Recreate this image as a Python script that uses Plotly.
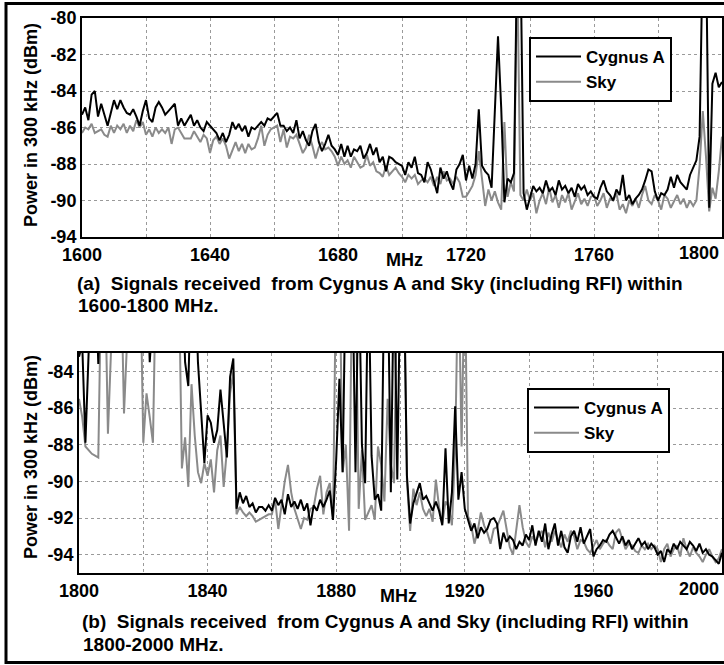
import plotly.graph_objects as go

# ---------------- data ----------------
freq_a = list(range(1600, 1801))   # MHz, 1 MHz steps
freq_b = list(range(1800, 2001))

cyg_a = [
    -85.3, -84.9, -85.6, -84.2, -84.0, -85.4, -84.7, -85.3, -85.9, -85.2,
    -84.5, -85.0, -84.5, -84.9, -85.2, -85.3, -85.0, -85.4, -85.9, -85.1,
    -84.5, -85.5, -85.7, -84.9, -84.6, -84.9, -85.3, -85.1, -84.9, -84.7,
    -85.9, -85.5, -85.9, -85.6, -85.3, -85.9, -85.6, -86.0, -86.2, -85.7,
    -85.9, -86.1, -86.3, -86.7, -86.3, -86.8, -86.4, -85.7, -86.1, -85.8,
    -86.2, -85.9, -86.5, -86.0, -86.1, -85.9, -85.7, -85.9, -85.5, -85.6,
    -85.4, -85.2, -85.9, -85.9, -86.2, -86.0, -86.3, -85.6, -86.6, -86.2,
    -86.7, -87.0, -86.2, -85.8, -86.8, -87.3, -86.9, -86.4, -87.0, -87.2,
    -87.5, -86.9, -87.6, -87.0, -87.6, -87.2, -87.3, -87.0, -87.7, -87.4,
    -86.9, -87.5, -87.1, -87.9, -87.6, -88.4, -87.6, -87.7, -87.9, -88.0,
    -88.1, -88.6, -87.9, -88.2, -87.6, -88.5, -88.6, -89.0, -87.9, -88.3,
    -89.0, -89.6, -88.2, -88.8, -88.4, -89.0, -89.4, -88.3, -88.0, -87.5,
    -88.9, -88.1, -88.8, -88.0, -85.0, -88.1, -88.4, -88.6, -89.3, -85.1,
    -81.0, -84.9, -90.1, -88.8, -89.0, -88.5, -76.0, -76.0, -89.6, -90.5,
    -89.8, -89.2, -89.5, -89.3, -89.6, -88.9, -89.5, -89.3, -89.7, -88.9,
    -89.4, -89.2, -89.6, -89.3, -89.8, -89.1, -89.4, -89.2, -89.7, -89.5,
    -89.8, -89.9, -89.3, -88.9, -89.5, -89.7, -90.0, -89.4, -89.7, -88.6,
    -90.0, -89.7, -90.2, -89.9, -89.7, -89.4, -88.9, -88.3, -88.4, -89.5,
    -90.0, -89.6, -89.7, -89.4, -88.7, -89.3, -88.6, -89.0, -89.2, -89.4,
    -88.6, -88.2, -87.8, -86.5, -76.0, -76.0, -90.4, -83.6, -83.0, -83.8,
    -83.5,
]

sky_a = [
    -86.3, -86.0, -86.1, -85.8, -86.3, -86.2, -86.1, -86.4, -86.5, -85.9,
    -86.3, -85.9, -86.1, -85.8, -86.3, -85.9, -86.2, -85.6, -86.0, -85.7,
    -86.4, -86.1, -86.5, -86.0, -86.3, -86.1, -86.3, -86.0, -86.9, -86.1,
    -86.0, -86.3, -86.6, -86.6, -86.6, -86.2, -86.5, -86.8, -86.4, -86.6,
    -87.4, -86.7, -86.5, -86.9, -86.6, -87.0, -87.7, -87.2, -86.8, -87.3,
    -86.9, -87.4, -86.9, -87.2, -87.1, -86.6, -85.9, -87.0, -86.4, -86.1,
    -86.0, -85.9, -86.8, -86.1, -87.1, -86.5, -86.6, -86.4, -86.9, -87.4,
    -87.1, -86.4, -87.0, -87.7, -87.1, -86.8, -87.2, -87.1, -87.3, -87.6,
    -88.1, -87.6, -88.0, -87.8, -88.2, -87.6, -87.9, -88.2, -88.1, -87.5,
    -88.1, -87.9, -88.4, -88.5, -88.7, -88.1, -88.6, -88.4, -88.2, -88.5,
    -88.7, -89.0, -88.6, -88.8, -88.6, -89.1, -88.9, -88.8, -89.0, -88.7,
    -89.2, -88.7, -89.1, -88.4, -88.9, -88.8, -89.1, -88.7, -89.0, -89.8,
    -89.8, -89.5, -89.2, -88.6, -87.3, -88.8, -90.3, -89.4, -90.0, -89.5,
    -90.1, -90.5, -85.7, -89.8, -89.0, -89.5, -77.0, -89.7, -90.0, -89.4,
    -90.0, -89.6, -90.7, -90.0, -89.6, -90.2, -89.3, -90.1, -89.7, -90.4,
    -89.7, -90.1, -89.6, -90.5, -90.0, -89.6, -90.2, -89.9, -90.3, -89.8,
    -89.7, -90.3, -90.0, -89.6, -90.4, -89.9, -90.0, -89.6, -90.5, -90.2,
    -90.7, -90.0, -90.3, -89.9, -90.4, -89.7, -89.2, -90.0, -90.2, -89.7,
    -90.0, -90.5, -89.7, -89.9, -90.4, -90.0, -89.7, -90.2, -89.9, -90.4,
    -90.0, -90.3, -90.0, -88.1, -85.1, -87.6, -90.6, -89.3, -89.9, -88.4,
    -86.5,
]

cyg_b = [
    -83.2, -82.5, -87.9, -82.0, -78.0, -78.0, -83.6, -78.0, -78.0, -78.0,
    -78.0, -78.0, -78.0, -78.0, -78.0, -78.0, -78.0, -78.0, -78.0, -78.0,
    -78.0, -78.0, -83.5, -78.0, -78.0, -78.0, -78.0, -78.0, -78.0, -78.0,
    -78.0, -78.0, -78.0, -83.5, -84.8, -78.0, -78.0, -83.5, -86.2, -89.0,
    -86.4, -86.8, -87.9, -87.2, -85.0, -86.8, -88.7, -84.3, -83.3, -91.5,
    -90.6, -91.2, -90.8, -91.4, -91.2, -91.7, -91.4, -91.4, -91.6, -91.3,
    -91.6, -90.9, -91.3, -91.0, -91.8, -90.7, -91.4, -91.1, -91.5, -91.0,
    -91.6, -91.2, -92.4, -91.3, -91.6, -91.0, -91.4, -91.0, -90.5, -92.1,
    -88.8, -84.4, -89.5, -78.0, -78.0, -78.0, -89.5, -78.0, -88.0, -90.1,
    -78.0, -88.6, -91.0, -90.7, -91.6, -78.0, -78.0, -90.6, -78.0, -89.9,
    -78.0, -78.0, -89.7, -92.3, -91.2, -90.6, -90.1, -91.0, -90.8, -91.2,
    -91.6, -91.1, -91.6, -92.4, -88.2, -92.3, -90.6, -85.9, -91.0, -89.5,
    -91.5, -92.1, -92.7, -92.3, -93.1, -92.5, -92.8, -92.6, -92.1, -92.0,
    -92.3, -93.7, -92.8, -93.3, -93.0, -93.2, -93.7, -93.3, -93.5, -92.9,
    -93.2, -92.4, -93.5, -92.7, -93.3, -92.3, -93.7, -92.9, -92.3, -93.5,
    -92.7, -93.6, -93.9, -93.0, -92.7, -93.3, -92.5, -93.4, -93.0, -92.6,
    -94.1, -93.7, -93.5, -93.2, -93.3, -92.9, -92.7, -93.1, -93.4, -93.0,
    -93.5, -93.2, -93.7, -93.4, -93.1, -93.5, -93.3, -93.7, -93.4, -93.6,
    -94.0, -93.8, -94.4, -93.7, -93.9, -93.4, -93.7, -93.3, -93.5, -93.7,
    -93.3, -93.5, -93.8, -93.4, -93.9, -93.7, -94.0, -94.1, -94.3, -94.5,
    -93.9,
]

sky_b = [
    -85.5, -86.5, -88.1, -88.3, -88.5, -88.6, -88.7, -78.0, -78.0, -87.4,
    -78.0, -78.0, -78.0, -78.0, -86.3, -78.0, -78.0, -78.0, -78.0, -78.0,
    -87.9, -85.2, -86.5, -87.9, -78.0, -78.0, -78.0, -78.0, -78.0, -78.0,
    -78.0, -78.0, -89.3, -87.6, -90.3, -84.7, -87.5, -89.5, -90.1, -89.0,
    -89.7, -88.8, -90.6, -88.3, -87.5, -90.3, -88.3, -85.2, -84.0, -91.8,
    -91.4, -91.7, -91.9, -91.7, -91.9, -92.2, -92.1, -92.0, -91.9, -91.8,
    -91.8, -91.0, -92.6, -91.4, -90.0, -89.1, -90.6, -91.5, -92.0, -92.6,
    -92.0, -92.1, -91.5, -91.4, -90.4, -89.7, -91.8, -90.6, -90.1, -92.1,
    -78.0, -78.0, -89.5, -88.0, -92.7, -78.0, -78.0, -91.5, -88.3, -92.1,
    -91.7, -91.3, -92.1, -88.1, -89.1, -91.1, -85.5, -89.1, -90.1, -78.0,
    -78.0, -78.0, -90.0, -92.7, -90.4, -91.3, -90.6, -91.5, -91.9, -91.5,
    -92.2, -89.9, -91.4, -92.3, -91.1, -91.4, -92.4, -88.3, -78.0, -88.1,
    -78.0, -91.9, -92.4, -93.4, -92.7, -91.7, -92.4, -92.8, -93.4, -92.6,
    -92.5, -92.0, -91.6, -92.6, -93.6, -94.0, -92.5, -91.3, -92.5, -93.3,
    -93.6, -93.0, -93.3, -92.9, -92.7, -93.6, -92.8, -93.3, -92.7, -93.1,
    -93.6, -92.9, -93.3, -92.7, -93.0, -93.7, -93.2, -93.3, -93.7, -93.9,
    -93.5, -93.2, -93.7, -93.4, -93.2, -93.5, -93.7, -92.8, -92.6, -93.2,
    -93.7, -93.4, -93.5, -93.8, -93.9, -93.5, -93.7, -93.4, -93.7, -93.5,
    -93.7, -94.4, -93.7, -93.4, -94.1, -93.7, -93.5, -94.1, -93.1, -93.7,
    -94.1, -93.6, -93.9, -94.1, -94.4, -94.0, -93.7, -94.1, -94.4, -94.2,
    -93.7,
]

# tick labels; the label of the last tick is written right-aligned at that tick
xticks_a = [1600, 1620, 1640, 1660, 1680, 1700, 1720, 1740, 1760, 1780, 1800]
xtext_a = ["1600", "", "1640", "", "1680", "", "1720", "", "1760", "", ""]
last_label_a = "1800"
xticks_b = [1800, 1820, 1840, 1860, 1880, 1900, 1920, 1940, 1960, 1980, 2000]
xtext_b = ["1800", "", "1840", "", "1880", "", "1920", "", "1960", "", ""]
last_label_b = "2000"
yticks_a = [-92, -90, -88, -86, -84, -82, -80]
ytext_a = ["-94", "-90", "-88", "-86", "-84", "-82", "-80"]
yticks_b = [-94, -92, -90, -88, -86, -84]
ytext_b = ["-94", "-92", "-90", "-88", "-86", "-84"]

series_names = ["Cygnus A", "Sky"]
y_title = "Power in 300 kHz (dBm)"
x_title = "MHz"
caption_a = ["(a)  Signals received  from Cygnus A and Sky (including RFI) within", "1600-1800 MHz."]
caption_b = ["(b)  Signals received  from Cygnus A and Sky (including RFI) within", "1800-2000 MHz."]

# ---------------- figure ----------------
W, H = 724, 665
FONT = "Liberation Sans, Arial, sans-serif"
BLACK = "#000000"
GRAY = "#8a8a8a"


def px_x(p):
    return p / W


def px_y(p):
    return 1 - p / H


fig = go.Figure()
fig.add_trace(go.Scatter(x=freq_a, y=sky_a, name=series_names[1], mode="lines",
                         line=dict(color=GRAY, width=2), xaxis="x", yaxis="y", legend="legend"))
fig.add_trace(go.Scatter(x=freq_a, y=cyg_a, name=series_names[0], mode="lines",
                         line=dict(color=BLACK, width=2), xaxis="x", yaxis="y", legend="legend"))
fig.add_trace(go.Scatter(x=freq_b, y=sky_b, name=series_names[1], mode="lines",
                         line=dict(color=GRAY, width=2), xaxis="x2", yaxis="y2", legend="legend2"))
fig.add_trace(go.Scatter(x=freq_b, y=cyg_b, name=series_names[0], mode="lines",
                         line=dict(color=BLACK, width=2), xaxis="x2", yaxis="y2", legend="legend2"))

tickfont = dict(family=FONT, size=18, color=BLACK, weight="bold")
common_axis = dict(showgrid=True, gridcolor="#9a9a9a", gridwidth=1, griddash="dot",
                   showline=True, mirror=True, linecolor=BLACK, linewidth=2,
                   zeroline=False, ticks="", tickfont=tickfont, automargin=False,
                   fixedrange=True)

legend_common = dict(xanchor="left", yanchor="top", bgcolor="white",
                     bordercolor=BLACK, borderwidth=2, traceorder="reversed",
                     font=dict(family=FONT, size=17, color=BLACK, weight="bold"),
                     tracegroupgap=0, itemwidth=45)

fig.update_layout(
    width=W, height=H,
    margin=dict(l=0, r=0, t=0, b=0),
    paper_bgcolor="white", plot_bgcolor="white",
    showlegend=True,
    xaxis=dict(domain=[px_x(82), px_x(722)], range=[1600, 1800], anchor="y",
               tickmode="array", tickvals=xticks_a, ticktext=xtext_a, **common_axis),
    yaxis=dict(domain=[px_y(237), px_y(18)], range=[-92, -80], anchor="x",
               tickmode="array", tickvals=yticks_a, ticktext=ytext_a, **common_axis),
    xaxis2=dict(domain=[px_x(79), px_x(722)], range=[1800, 2000], anchor="y2",
                tickmode="array", tickvals=xticks_b, ticktext=xtext_b, **common_axis),
    yaxis2=dict(domain=[px_y(573), px_y(353)], range=[-95, -83], anchor="x2",
                tickmode="array", tickvals=yticks_b, ticktext=ytext_b, **common_axis),
    legend=dict(x=px_x(529), y=px_y(37), **legend_common),
    legend2=dict(x=px_x(527), y=px_y(388), **legend_common),
)

ann_font = dict(family=FONT, size=18, color=BLACK, weight="bold")
cap_font = dict(family=FONT, size=19, color=BLACK, weight="bold")
annotations = [
    dict(text=y_title, x=px_x(31), y=px_y(125), textangle=-90, font=ann_font,
         xanchor="center", yanchor="middle"),
    dict(text=y_title, x=px_x(31), y=px_y(457), textangle=-90, font=ann_font,
         xanchor="center", yanchor="middle"),
    dict(text=x_title, x=px_x(404), y=px_y(260), font=ann_font,
         xanchor="center", yanchor="middle"),
    dict(text=x_title, x=px_x(398), y=px_y(596), font=ann_font,
         xanchor="center", yanchor="middle"),
    dict(text=caption_a[0], x=px_x(75), y=px_y(283), font=cap_font,
         xanchor="left", yanchor="middle"),
    dict(text=caption_a[1], x=px_x(76), y=px_y(305), font=cap_font,
         xanchor="left", yanchor="middle"),
    dict(text=caption_b[0], x=px_x(80), y=px_y(621), font=cap_font,
         xanchor="left", yanchor="middle"),
    dict(text=caption_b[1], x=px_x(81), y=px_y(644), font=cap_font,
         xanchor="left", yanchor="middle"),
]
for a in annotations:
    a.update(xref="paper", yref="paper", showarrow=False)
# right-most tick labels, anchored to the last tick of each x axis
annotations.append(dict(text=last_label_a, xref="x", x=xticks_a[-1], yref="paper", y=px_y(253),
                        xanchor="right", yanchor="middle", showarrow=False, font=tickfont,
                        xshift=-1))
annotations.append(dict(text=last_label_b, xref="x2", x=xticks_b[-1], yref="paper", y=px_y(589),
                        xanchor="right", yanchor="middle", showarrow=False, font=tickfont,
                        xshift=-1))
fig.update_layout(annotations=annotations)

# outer frame of the figure
fig.add_shape(type="rect", xref="paper", yref="paper",
              x0=px_x(6), x1=px_x(740), y0=px_y(662.5), y1=px_y(3.5),
              line=dict(color=BLACK, width=3), fillcolor="rgba(0,0,0,0)", layer="above")

fig.write_html("out.html")
